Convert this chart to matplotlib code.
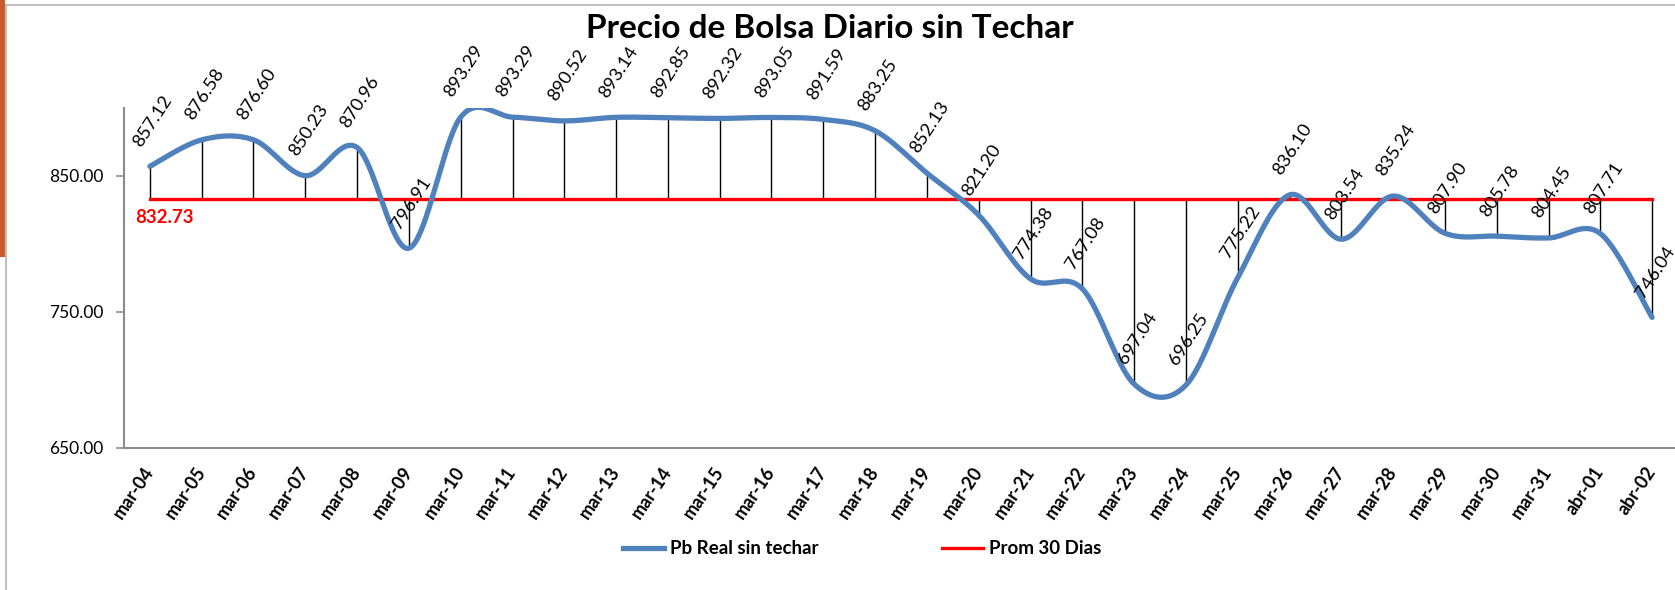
# Precio de Bolsa Diario sin Techar
import numpy as np
import matplotlib
matplotlib.use("Agg")
from matplotlib import pyplot as plt
from matplotlib import transforms
from matplotlib.patches import Rectangle
from matplotlib.lines import Line2D

plt.rcParams['font.family'] = ['Lato', 'DejaVu Sans']

# datos
fechas = ["mar-04", "mar-05", "mar-06", "mar-07", "mar-08", "mar-09", "mar-10", "mar-11", "mar-12", "mar-13",
          "mar-14", "mar-15", "mar-16", "mar-17", "mar-18", "mar-19", "mar-20", "mar-21", "mar-22", "mar-23",
          "mar-24", "mar-25", "mar-26", "mar-27", "mar-28", "mar-29", "mar-30", "mar-31", "abr-01", "abr-02"]
precio = [857.12, 876.58, 876.60, 850.23, 870.96, 796.91, 893.29, 893.29, 890.52, 893.14,
          892.85, 892.32, 893.05, 891.59, 883.25, 852.13, 821.20, 774.38, 767.08, 697.04,
          696.25, 775.22, 836.10, 803.54, 835.24, 807.90, 805.78, 804.45, 807.71, 746.04]
promedio = 832.73
y_ticks = [650, 750, 850]

azul = "#4F81BD"
rojo = "#FF0000"


def suavizar(x, y, n=40):
    # curva suave tipo Excel (Catmull-Rom en Bezier)
    x = np.asarray(x, float)
    y = np.asarray(y, float)
    px = np.concatenate([[x[0]], x, [x[-1]]])
    py = np.concatenate([[y[0]], y, [y[-1]]])
    xs, ys = [], []
    t = np.linspace(0, 1, n)
    for i in range(1, len(px) - 2):
        p0 = np.array([px[i], py[i]])
        p3 = np.array([px[i + 1], py[i + 1]])
        c1 = p0 + (np.array([px[i + 1], py[i + 1]]) - np.array([px[i - 1], py[i - 1]])) / 6
        c2 = p3 - (np.array([px[i + 2], py[i + 2]]) - np.array([px[i], py[i]])) / 6
        b = ((1 - t) ** 3)[:, None] * p0 + (3 * (1 - t) ** 2 * t)[:, None] * c1 \
            + (3 * (1 - t) * t ** 2)[:, None] * c2 + (t ** 3)[:, None] * p3
        xs.extend(b[:, 0])
        ys.extend(b[:, 1])
    return xs, ys


fig = plt.figure(figsize=(16.75, 5.9), dpi=100)
# el area de trazado se sale un poco por la derecha, como en la imagen original
ax = fig.add_axes([124 / 1675, 1 - 448 / 590, 30 * 51.8 / 1675, (448 - 108) / 590])

x = np.arange(len(fechas))

# lineas verticales al promedio
ax.vlines(x, [promedio] * len(x), precio, color="black", lw=1.0, zorder=2)
# promedio
ax.plot([x[0], x[-1]], [promedio, promedio], color=rojo, lw=2.4, zorder=3)
# serie suavizada
sx, sy = suavizar(x, precio)
ax.plot(sx, sy, color=azul, lw=3.8, solid_capstyle="round", zorder=4)

# etiquetas de datos
for xi, v in zip(x, precio):
    ax.annotate(f"{v:.2f}", (xi, v), xytext=(3, 17), textcoords="offset pixels",
                ha="center", va="bottom", rotation=57, fontsize=13.2, color="black", zorder=5)

ax.annotate(f"{promedio:.2f}", (x[0], promedio), xytext=(-15, -18), textcoords="offset pixels",
            ha="left", va="center", fontsize=13.5, fontweight="bold", color=rojo)

ax.set_xlim(-0.5, len(fechas) - 0.5)
ax.set_ylim(650, 900)
ax.set_yticks(y_ticks)
ax.set_yticklabels([f"{v:.2f}" for v in y_ticks], fontsize=12.5)
ax.set_xticks(x)
ax.set_xticklabels(fechas, rotation=56, ha="right", va="top", rotation_mode="anchor",
                   fontsize=13, fontweight="bold")
ax.tick_params(axis="x", length=0, pad=11.5)
ax.tick_params(axis="y", length=6, width=1.2, color="#8C8C8C", pad=9)
desplaza = transforms.ScaledTranslation(-7 / 100, 0, fig.dpi_scale_trans)
for lab in ax.get_xticklabels():
    lab.set_transform(lab.get_transform() + desplaza)

for s in ["top", "right"]:
    ax.spines[s].set_visible(False)
for s in ["left", "bottom"]:
    ax.spines[s].set_color("#8C8C8C")
    ax.spines[s].set_linewidth(1.5)

# titulo
fig.text(830 / 1675, 1 - 28 / 590, "Precio de Bolsa Diario sin Techar", ha="center", va="center",
         fontsize=24, fontweight="bold")

# leyenda
h1 = Line2D([], [], color=azul, lw=3.8)
h2 = Line2D([], [], color=rojo, lw=2.4)
fig.legend([h1, h2], ["Pb Real sin techar", "Prom 30 Dias"], loc="center",
           bbox_to_anchor=(862 / 1675, 1 - 549 / 590), ncol=2, frameon=False,
           prop={"weight": "bold", "size": 13.5}, handlelength=2.2, columnspacing=6.6, handletextpad=0.3)

# marco de la diapositiva
fig.add_artist(Rectangle((0, 1 - 257 / 590), 5 / 1675, 257 / 590, transform=fig.transFigure,
                         color="#C65B2C", lw=0))
fig.add_artist(Line2D([6 / 1675, 1], [1 - 5 / 590, 1 - 5 / 590], transform=fig.transFigure,
                      color="#BFBFBF", lw=1.5))
fig.add_artist(Line2D([6 / 1675, 6 / 1675], [0, 1 - 5 / 590], transform=fig.transFigure,
                      color="#BFBFBF", lw=1.5))

plt.savefig("out.png", dpi=100)
